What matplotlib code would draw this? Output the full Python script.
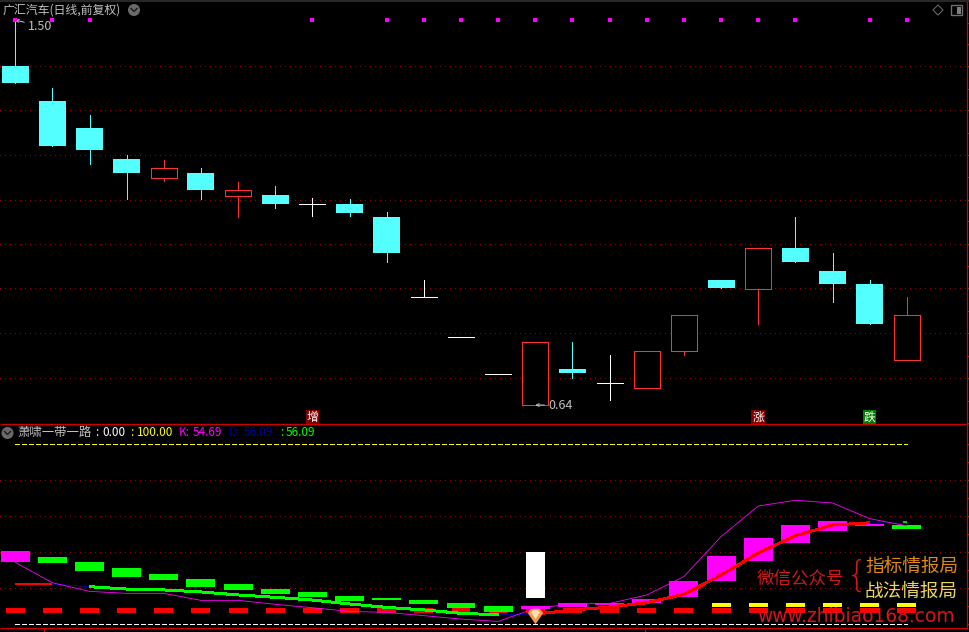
import numpy as np
import matplotlib
matplotlib.use("Agg")
import matplotlib.pyplot as plt
from matplotlib.patches import Circle, Polygon, FancyBboxPatch

plt.rcParams['font.family'] = ['Noto Sans CJK SC', 'DejaVu Sans']

# candles
opens = [1.397, 1.319, 1.259, 1.189, 1.148, 1.158, 1.108, 1.109, 1.089, 1.089, 1.060, 0.881, 0.791,
         0.710, 0.641, 0.720, 0.690, 0.679, 0.760, 0.919, 0.900, 0.991, 0.939, 0.910, 0.741]
closes = [1.359, 1.219, 1.210, 1.158, 1.169, 1.120, 1.120, 1.089, 1.089, 1.069, 0.979, 0.881, 0.791,
          0.710, 0.780, 0.711, 0.690, 0.761, 0.841, 0.901, 0.991, 0.959, 0.910, 0.821, 0.841]
highs = [1.500, 1.348, 1.288, 1.198, 1.187, 1.169, 1.138, 1.129, 1.102, 1.100, 1.071, 0.919, 0.791,
         0.710, 0.780, 0.781, 0.752, 0.761, 0.841, 0.919, 0.991, 1.060, 0.980, 0.919, 0.881]
lows = [1.359, 1.219, 1.178, 1.100, 1.140, 1.100, 1.060, 1.080, 1.062, 1.062, 0.959, 0.881, 0.791,
        0.710, 0.640, 0.700, 0.651, 0.679, 0.752, 0.901, 0.821, 0.959, 0.870, 0.821, 0.741]
price_grid = [1.397, 1.298, 1.198, 1.099, 1.000, 0.901, 0.800, 0.700]
price_ticks = [1.494, 1.446, 1.397, 1.347, 1.298, 1.248, 1.198, 1.149, 1.099, 1.050, 1.000,
               0.950, 0.901, 0.850, 0.800, 0.750, 0.700, 0.650, 0.600]
signal_days = [0, 1, 2, 8, 10, 11, 12, 13, 14, 15, 16, 17, 18, 19, 20, 21, 23, 24]
signal_price = 1.501

# indicator panel
bar_top = [40.7, 37.4, 34.6, 31.3, 27.9, 25.2, 22.4, 19.6, 17.9, 15.7, 14.6, 13.5, 11.8,
           10.2, 10.2, 11.8, 11.8, 14.1, 24.1, 37.9, 47.9, 55.2, 57.4, 55.7, 55.2]
bar_bottom = [34.6, 34.1, 29.6, 26.3, 24.6, 20.7, 19.1, 16.8, 15.2, 12.9, 13.5, 11.3, 9.1,
              6.8, 8.5, 9.6, 10.7, 11.8, 15.2, 24.1, 35.2, 45.2, 51.8, 54.6, 53.0]
bar_up = [1, 0, 0, 0, 0, 0, 0, 0, 0, 0, 0, 0, 0, 0, 1, 1, 1, 1, 1, 1, 1, 1, 1, 1, 0]
k_line = [34.4, 23.1, 18.3, 17.2, 17.2, 13.3, 13.3, 11.1, 9.2, 7.2, 6.6, 4.8, 2.9,
          1.6, 8.9, 11.3, 11.6, 16.3, 26.5, 48.7, 65.7, 68.9, 67.4, 58.7, 54.69]
d_line = [22.4, 22.4, 20.9, 19.6, 19.1, 18.0, 16.3, 15.0, 13.5, 11.3, 9.4, 8.0, 6.1,
          5.3, 5.7, 7.9, 9.6, 12.0, 16.6, 27.4, 39.6, 49.2, 55.2, 56.4, 56.09]
d_colors = ['red', 'none', 'lime', 'lime', 'lime', 'lime', 'lime', 'lime', 'lime', 'lime', 'lime', 'lime', 'lime',
            'none', 'red', 'red', 'red', 'red', 'red', 'red', 'red', 'red', 'red', 'none']
upper = [100] * 25
lower = [0] * 25
red_top = [9.0] * 25
red_bottom = [6.3] * 25
yellow_days = [19, 20, 21, 22, 23, 24]
yellow_top = 12.0
yellow_bottom = 9.6
spike_day = 14
spike_top = 40.2
spike_bottom = 14.6
gem_value = 4.6
ind_grid = [20, 40, 60, 80]
ind_ticks = [0, 10, 20, 30, 40, 50, 60, 70, 80, 90, 100]

days = np.arange(len(opens))
W, H = 969, 632
CYAN = '#54FFFF'
HOLLOW = '#FF3232'
GRIDRED = '#A00000'
FRAME = '#D00000'
ONE_PX = 0.72

fig = plt.figure(figsize=(W / 100, H / 100), dpi=100, facecolor='black')


def panel(top_px, bottom_px):
    ax = fig.add_axes([0, 1 - bottom_px / H, 967 / W, (bottom_px - top_px) / H], facecolor='black')
    ax.set_xlim(-15.2 / 37.15, (967 - 15.2) / 37.15)
    for s in ax.spines.values():
        s.set_visible(False)
    ax.spines['right'].set_visible(True)
    ax.spines['right'].set_color(FRAME)
    ax.spines['right'].set_linewidth(0.9)
    ax.set_xticks([])
    ax.yaxis.tick_right()
    ax.tick_params(axis='y', direction='out', length=2.2, width=ONE_PX, color=FRAME, labelright=False)
    return ax


# price panel
ax1 = panel(0, 424.5)
ax1.set_ylim(0.5965, 1.5447)
ax1.set_yticks(price_ticks)
for p in price_grid:
    ax1.axhline(p, color=GRIDRED, lw=ONE_PX, ls=(0, (1, 5)), antialiased=False, zorder=1)

for i in days:
    o, c = opens[i], closes[i]
    if c > o:
        col = HOLLOW
    elif c < o:
        col = CYAN
    else:
        col = 'white'
    ax1.vlines(i, lows[i], highs[i], color=col, lw=ONE_PX, antialiased=False, zorder=2)
    if c > o:
        ax1.bar(i, c - o, bottom=o, width=0.70, facecolor='black', edgecolor=col, lw=ONE_PX, antialiased=False, zorder=3)
    elif c < o:
        ax1.bar(i, o - c, bottom=c, width=0.726, color=col, lw=0, antialiased=False, zorder=3)
    else:
        ax1.hlines(c, i - 0.35, i + 0.35, color=col, lw=ONE_PX, antialiased=False, zorder=3)

ax1.scatter(signal_days, [signal_price] * len(signal_days), marker='s', s=6.5, color='#FF00FF', lw=0, zorder=4)

for day, price, txt in [(0, highs[0], '1.50'), (14, lows[14], '0.64')]:
    ax1.annotate(txt, xy=(day, price), xytext=(9.5, -4.5 if day == 0 else 0), textcoords='offset points',
                 color='#C0C0C0', fontsize=9, va='center', ha='left',
                 arrowprops=dict(arrowstyle='->', color='#C0C0C0', lw=ONE_PX, shrinkA=1, shrinkB=0, mutation_scale=5))

for day, txt, bg in [(8, '增', '#800000'), (20, '涨', '#800000'), (23, '跌', '#008000')]:
    ax1.text(day, 0.613, txt, color='white', fontsize=8.5, ha='center', va='center', zorder=5,
             bbox=dict(boxstyle='square,pad=0.08', fc=bg, ec='none'))

# indicator panel
ax2 = panel(424.5, 628.5)
ax2.set_ylim(-2.33, 111)
ax2.set_yticks(ind_ticks)
for v in ind_grid:
    ax2.axhline(v, color=GRIDRED, lw=ONE_PX, ls=(0, (1, 5)), antialiased=False, zorder=1)
ax2.plot(days, upper, color='#FFFF00', lw=ONE_PX, ls=(0, (5, 2.5)), antialiased=False, zorder=2)
ax2.plot(days, lower, color='white', lw=ONE_PX, ls=(0, (5, 2.5)), antialiased=False, zorder=2)

ax2.bar(days, np.array(red_top) - np.array(red_bottom), bottom=red_bottom, width=0.51, color='#FF0000', lw=0,
        antialiased=False, zorder=3)
ax2.bar(yellow_days, yellow_top - yellow_bottom, bottom=yellow_bottom, width=0.51, color='#FFFF00', lw=0,
        antialiased=False, zorder=3)
bar_cols = ['#FF00FF' if u else '#00FF00' for u in bar_up]
ax2.bar(days, np.array(bar_top) - np.array(bar_bottom), bottom=bar_bottom, width=0.78, color=bar_cols, lw=0,
        antialiased=False, zorder=4)
ax2.bar(spike_day, spike_top - spike_bottom, bottom=spike_bottom, width=0.51, color='white', lw=0,
        antialiased=False, zorder=4)

ax2.plot(days, d_line, color='#0000A8', lw=0.6, zorder=5)
for i, col in enumerate(d_colors):
    if col != 'none':
        ax2.plot(days[i:i + 2], d_line[i:i + 2], color='#FF0000' if col == 'red' else '#00FF00', lw=1.4,
                 antialiased=False, solid_capstyle='butt', zorder=6)
ax2.plot(days, k_line, color='#FF00FF', lw=0.6, zorder=7)
ax2.scatter([23.95], [d_line[-1] + 0.6], marker='_', s=9, color='#00FF00', lw=1.2, zorder=7)

gem = [(-1, 0.45), (-0.55, 1), (0.55, 1), (1, 0.45), (0, -1)]
ax2.scatter([spike_day], [gem_value], marker=gem, s=125, color='#F09A48', lw=0, zorder=8)
ax2.scatter([spike_day], [gem_value + 1.2], marker=gem, s=40, color='#FFE0B0', lw=0, zorder=9)

# window chrome and overlay text, positioned in pixels
ov = fig.add_axes([0, 0, 1, 1], facecolor='none')
ov.set_xlim(0, W)
ov.set_ylim(H, 0)
ov.axis('off')
ov.hlines(0.5, 0, W, color='#2A2A2A', lw=1.4)
ov.hlines(424.2, 0, 967, color=FRAME, lw=0.9)
ov.hlines(628.2, 0, 967, color=FRAME, lw=0.9)
ov.vlines([44, 645], 628.5, 632, color=FRAME, lw=ONE_PX, antialiased=False)

ov.text(3, 10, '广汇汽车(日线,前复权)', color='#C0C0C0', fontsize=8.6, va='center', ha='left')
for cx, cy in [(134, 10), (7.5, 433)]:
    ov.add_patch(Circle((cx, cy), 6, fc='#6A6A6A', ec='none'))
    ov.plot([cx - 3, cx, cx + 3], [cy - 1.5, cy + 1.5, cy - 1.5], color='#202020', lw=1.1)
ov.add_patch(Polygon([(938, 5), (943, 10), (938, 15), (933, 10)], closed=True, fc='none', ec='#707070', lw=ONE_PX))
ov.add_patch(FancyBboxPatch((952, 6), 10, 9, boxstyle='round,pad=0.5', fc='none', ec='#707070', lw=1.0))
ov.fill_between([957, 961], 7, 14, color='#808080', lw=0)

ty = 432.5
ov.text(17, ty, '萧啸一带一路', color='#C0C0C0', fontsize=8.9, va='center', ha='left')
for x, txt, col in [(95, ':', 'white'), (102, '0.00', 'white'), (130, ':', '#FFFF00'), (137, '100.00', '#FFFF00'),
                    (179, 'K:', '#FF00FF'), (193, '54.69', '#FF00FF'), (229, 'D:', '#0000A8'),
                    (244, '56.09', '#0000A8'), (280, ':', '#00FF00'), (286, '56.09', '#00FF00')]:
    ov.text(x, ty, txt, color=col, fontsize=8.5, va='center', ha='left')

ov.text(757, 578, '微信公众号', color='#CC1A1A', fontsize=12.6, va='center', ha='left')
ov.text(865, 567, '指标情报局', color='#E08A10', fontsize=13.4, va='center', ha='left')
ov.text(865, 592, '战法情报局', color='#E8D860', fontsize=13.4, va='center', ha='left')
ov.text(856, 576, '{', color='#CC1A1A', fontsize=25, va='center', ha='center', family='DejaVu Sans', fontweight='light')
ov.text(757, 616, 'www.zhibiao168.com', color='#D8141C', fontsize=13.4, va='center', ha='left', family='DejaVu Sans')

fig.savefig('out.png', dpi=100, facecolor='black')
